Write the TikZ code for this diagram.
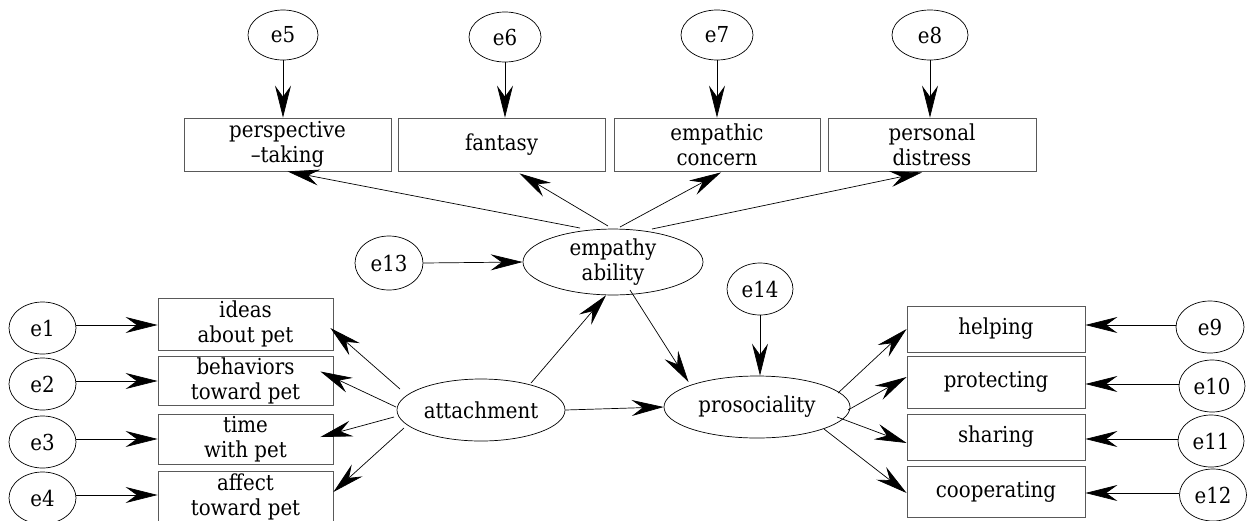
\documentclass[tikz,border=0pt]{standalone}
\usepackage{fontspec}
\newfontfamily\diagfont{DejaVu Serif Condensed}
\usetikzlibrary{arrows.meta,calc,shapes.geometric}
\begin{document}
\begin{tikzpicture}[x=1pt,y=-1pt,
 lbl/.style={font=\diagfont\fontsize{22}{25}\selectfont, align=center, inner sep=0pt},
 obs/.style={lbl, draw=black!65, line width=0.8pt, rectangle},
 lat/.style={lbl, draw=black, line width=0.7pt, ellipse},
 arr/.style={-{Stealth[length=32pt,width=16pt,inset=11pt]}, line width=0.7pt},
]
\useasboundingbox (0,0) rectangle (1252,520);
% top error terms
\node[lat, minimum width=70, minimum height=50] (e5) at (283,35) {e5};
\node[lat, minimum width=72, minimum height=50] (e6) at (505,37) {e6};
\node[lat, minimum width=72, minimum height=50] (e7) at (717,35) {e7};
\node[lat, minimum width=76, minimum height=50] (e8) at (930,35) {e8};
% top boxes
\node[obs, minimum width=207, minimum height=53] (pt) at (287.5,144.5) {perspective\\–taking};
\node[obs, minimum width=207, minimum height=53] (fa) at (501.5,144.5) {fantasy};
\node[obs, minimum width=206, minimum height=53] (ec) at (717,144.5) {empathic\\concern};
\node[obs, minimum width=208, minimum height=53] (pd) at (932,144.5) {personal\\distress};
% latent
\node[lat, minimum width=180, minimum height=62] (emp) at (613,262) {empathy\\ability};
\node[lat, minimum width=68, minimum height=54] (e13) at (389,263) {e13};
\node[lat, minimum width=168, minimum height=62] (att) at (481,410) {attachment};
\node[lat, minimum width=186, minimum height=62] (pro) at (757,407) {prosociality};
\node[lat, minimum width=66, minimum height=52] (e14) at (760,289) {e14};
% left boxes
\node[obs, minimum width=175, minimum height=52] (ia) at (245.5,324) {ideas\\about pet};
\node[obs, minimum width=175, minimum height=49] (bt) at (245.5,380.5) {behaviors\\toward pet};
\node[obs, minimum width=175, minimum height=50] (tw) at (245.5,439) {time\\with pet};
\node[obs, minimum width=175, minimum height=52] (at) at (245.5,497) {affect\\toward pet};
% left errors
\node[lat, minimum width=67, minimum height=52] (e1) at (42.5,328) {e1};
\node[lat, minimum width=67, minimum height=52] (e2) at (42.5,384) {e2};
\node[lat, minimum width=67, minimum height=52] (e3) at (42.5,442) {e3};
\node[lat, minimum width=67, minimum height=52] (e4) at (42.5,498) {e4};
% right boxes
\node[obs, minimum width=178, minimum height=46] (he) at (996,329) {helping};
\node[obs, minimum width=178, minimum height=52] (pr) at (996,382) {protecting};
\node[obs, minimum width=178, minimum height=46] (sh) at (996,437) {sharing};
\node[obs, minimum width=178, minimum height=51] (co) at (996,491.5) {cooperating};
% right errors
\node[lat, minimum width=68, minimum height=52] (e9) at (1210,327) {e9};
\node[lat, minimum width=66, minimum height=52] (e10) at (1212,386) {e10};
\node[lat, minimum width=66, minimum height=52] (e11) at (1211,441) {e11};
\node[lat, minimum width=67, minimum height=52] (e12) at (1213,495) {e12};
% error arrows top
\foreach \e/\b in {e5/pt,e6/fa,e7/ec,e8/pd}
  \draw[arr] (\e.south) -- (\e.south |- \b.north);
% error arrows left
\foreach \e/\b in {e1/ia,e2/bt,e3/tw,e4/at}
  \draw[arr] ($(\e.east)+(0,-3)$) -- ($(\e.east -| \b.west)+(0,-3)$);
% error arrows right
\foreach \e/\b in {e9/he,e10/pr,e11/sh,e12/co}
  \draw[arr] ($(\e.west)+(0,-2)$) -- ($(\e.west -| \b.east)+(0,-2)$);
% empathy loadings
\draw[arr] ($(emp.center)+(-33,-34)$) -- (pt.south);
\draw[arr] ($(emp.center)+(-5,-36)$) -- ($(fa.south)+(18,2)$);
\draw[arr] ($(emp.center)+(7,-35)$) -- ($(ec.south)+(4,1)$);
\draw[arr] ($(emp.center)+(39,-33)$) -- ($(pd.south)+(-10,1)$);
% attachment loadings
\draw[arr] ($(att.center)+(-81,-21)$) -- ($(ia.east)+(-3,4)$);
\draw[arr] ($(att.center)+(-85,-3)$) -- ($(bt.east)+(-13,-9)$);
\draw[arr] ($(att.center)+(-87,7)$) -- ($(tw.east)+(-13,-2)$);
\draw[arr] ($(att.center)+(-77,18)$) -- ($(at.east)+(0,-5)$);
% structural
\draw[arr] (e13.east) -- (emp.west);
\draw[arr] ($(att.center)+(50,-27)$) -- ($(emp.south)+(-7,0)$);
\draw[arr] (att.east) -- (pro.west);
\draw[arr] ($(emp.center)+(17,28)$) -- ($(pro.center)+(-68.5,-25)$);
\draw[arr] (e14.south) -- (e14.south |- pro.north);
% prosociality loadings
\draw[arr] ($(pro.center)+(81,-14)$) -- (he.west);
\draw[arr] ($(pro.center)+(91,3)$) -- ($(pr.west)+(0,-5)$);
\draw[arr] ($(pro.center)+(80,10)$) -- ($(sh.west)+(0,6)$);
\draw[arr] ($(pro.center)+(67,22)$) -- ($(co.west)+(0,1.5)$);
\end{tikzpicture}
\end{document}
